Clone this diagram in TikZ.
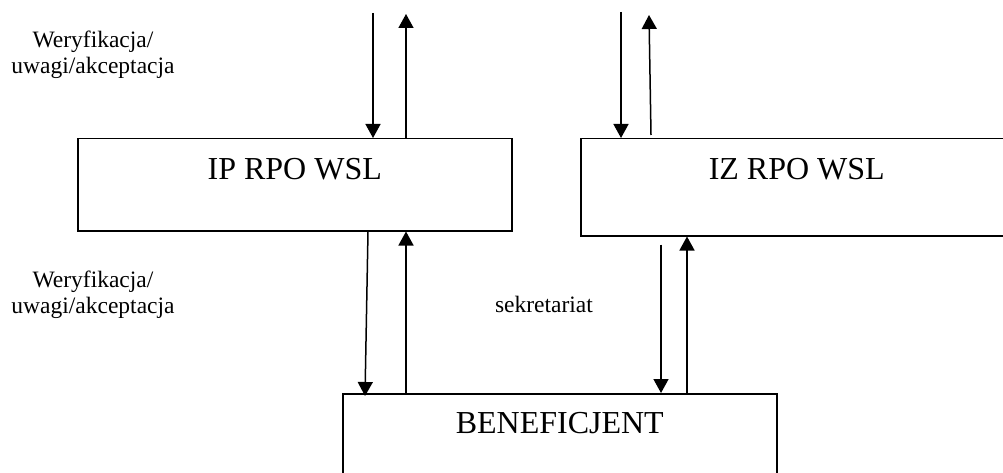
\documentclass[tikz,border=0pt]{standalone}
\usepackage{fontspec}
\setmainfont{Liberation Serif}
\usepackage{tikz}
\usetikzlibrary{arrows.meta}

\tikzset{
  box/.style={draw, line width=1.5pt, minimum width=434pt, anchor=north west, inner sep=0pt},
  flow/.style={line width=1.5pt, -{Triangle[width=15pt,length=14pt]}},
  caption/.style={font=\fontsize{32}{38}\selectfont, anchor=base},
  note/.style={font=\fontsize{23.5}{26.5}\selectfont, align=center},
}

\begin{document}
\begin{tikzpicture}[x=1pt, y=-1pt]
    \useasboundingbox (0,0) rectangle (1003,473);
    \clip (0,0) rectangle (1003,473);

    % Boxes
    \node[box, minimum height=92pt] (ip) at (77,138) {};
    \node[box, minimum width=432pt, minimum height=97pt] (iz) at (580,138) {};
    \node[box, minimum height=100pt] (ben) at (342,393) {};

    \node[caption] (ip-txt) at ([yshift=-42pt]ip.north) {IP RPO WSL};
    \node[caption] (iz-txt) at ([yshift=-42pt]iz.north) {IZ RPO WSL};
    \node[caption] (ben-txt) at ([yshift=-40pt]ben.north) {BENEFICJENT};

    % Free ends at the top
    \coordinate (ip-in) at (373,13);
    \coordinate (ip-out) at (406,14);
    \coordinate (iz-in) at (621,12);
    \coordinate (iz-out) at (649,15);

    % IP RPO WSL arrows
    \draw[flow] (ip-in) -- (ip-in |- ip.north);
    \draw[flow] (ip-out |- ip.north) -- (ip-out);
    \draw[flow] ([xshift=291pt]ip.south west) -- ([xshift=23pt,yshift=-3pt]ben.north west);
    \draw[flow] ([xshift=64pt]ben.north west) -- ([xshift=329pt]ip.south west);

    % IZ RPO WSL arrows
    \draw[flow] (iz-in) -- (iz-in |- iz.north);
    \draw[flow] ([xshift=71pt,yshift=3pt]iz.north west) -- (iz-out);
    \draw[flow] ([xshift=81pt,yshift=-8pt]iz.south west) -- ([xshift=319pt]ben.north west);
    \draw[flow] ([xshift=345pt]ben.north west) -- ([xshift=107pt]iz.south west);

    % Labels
    \node[note] (verif-top) at (93,55) {Weryfikacja/\\uwagi/akceptacja};
    \node[note] (verif-mid) at (93,295) {Weryfikacja/\\uwagi/akceptacja};
    \node[note, anchor=base] (sekr) at (544,312) {sekretariat};
\end{tikzpicture}
\end{document}
